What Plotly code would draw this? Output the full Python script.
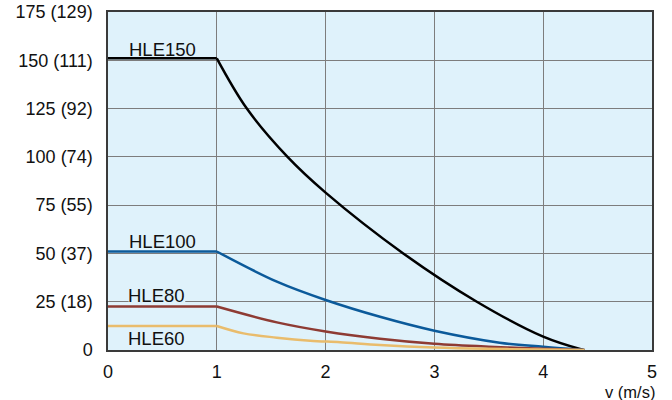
import plotly.graph_objects as go

# Data (v in m/s, force values)
v_hle150 = [0, 1.0, 1.276, 1.65, 2.0, 2.714, 3.39, 4.0, 4.37]
f_hle150 = [151, 151, 125, 100, 81.5, 50, 25, 6.9, 0]

v_hle100 = [0, 1.0, 1.552, 2.0, 2.5, 3.0, 3.6, 4.0, 4.38]
f_hle100 = [51, 51, 35.4, 25.9, 17.2, 10, 3.8, 1.7, 0]

v_hle80 = [0, 1.0, 1.552, 2.0, 2.5, 3.0, 3.5, 4.0, 4.38]
f_hle80 = [22.5, 22.5, 14.3, 9.6, 5.8, 3.2, 1.7, 0.7, 0]

v_hle60 = [0, 1.0, 1.245, 1.552, 1.858, 2.133, 2.5, 3.0, 3.5, 4.0, 4.38]
f_hle60 = [12.4, 12.4, 8.6, 6.4, 4.8, 4.0, 2.6, 1.3, 0.6, 0.25, 0]

series_names = ["HLE150", "HLE100", "HLE80", "HLE60"]
series_colors = ["#000000", "#0b5a9a", "#8e3b33", "#e9bc6c"]

y_tickvals = [0, 25, 50, 75, 100, 125, 150, 175]
y_ticktext = ["0", "25 (18)", "50 (37)", "75 (55)", "100 (74)", "125 (92)", "150 (111)", "175 (129)"]
x_tickvals = [0, 1, 2, 3, 4, 5]

# label positions (data coords)
label_x = [0.497, 0.497, 0.447, 0.447]
label_y = [155.8, 56.0, 28.0, 6.0]

BG = "#dff2fb"
FONT = "Liberation Sans, Arial, sans-serif"

fig = go.Figure()
all_v = [v_hle150, v_hle100, v_hle80, v_hle60]
all_f = [f_hle150, f_hle100, f_hle80, f_hle60]
for name, col, vs, fs in zip(series_names, series_colors, all_v, all_f):
    # flat part
    fig.add_trace(go.Scatter(x=vs[:2], y=fs[:2], mode="lines",
                             line=dict(color=col, width=2.5), showlegend=False, hoverinfo="skip"))
    # falling part
    fig.add_trace(go.Scatter(x=vs[1:], y=fs[1:], mode="lines",
                             line=dict(color=col, width=2.5, shape="spline", smoothing=1.0),
                             showlegend=False, name=name))

for name, lx, ly in zip(series_names, label_x, label_y):
    fig.add_annotation(x=lx, y=ly, xref="x", yref="y", text=name, showarrow=False,
                       font=dict(family=FONT, size=18.5, color="#111"),
                       xanchor="center", yanchor="middle")

# gap in the 25 gridline behind the HLE80 label
fig.add_shape(type="rect", xref="x", yref="y", x0=0.19, x1=0.71, y0=24.0, y1=26.0,
              fillcolor=BG, line=dict(width=0), layer="between")

fig.add_annotation(x=1.009, y=-0.124, xref="paper", yref="paper", text="v (m/s)", showarrow=False,
                   font=dict(family=FONT, size=16.5, color="#111"),
                   xanchor="right", yanchor="middle")

fig.update_layout(
    width=672, height=400,
    margin=dict(l=108, r=20, t=12, b=50),
    paper_bgcolor="white", plot_bgcolor=BG,
    font=dict(family=FONT, size=18, color="#111"),
    xaxis=dict(range=[0, 5], tickvals=x_tickvals, showgrid=True, gridcolor="#7d7d7d", gridwidth=1.3,
               zeroline=False, showline=True, linecolor="#3a3a3a", linewidth=1.5, mirror=True,
               ticks="", ticklabelstandoff=5, automargin=False),
    yaxis=dict(range=[0, 175], tickvals=y_tickvals, ticktext=y_ticktext, showgrid=True,
               gridcolor="#7d7d7d", gridwidth=1.3, zeroline=False, showline=True,
               linecolor="#3a3a3a", linewidth=1.5, mirror=True, ticks="", ticklabelstandoff=10,
               automargin=False),
)

fig.write_html("out.html")
